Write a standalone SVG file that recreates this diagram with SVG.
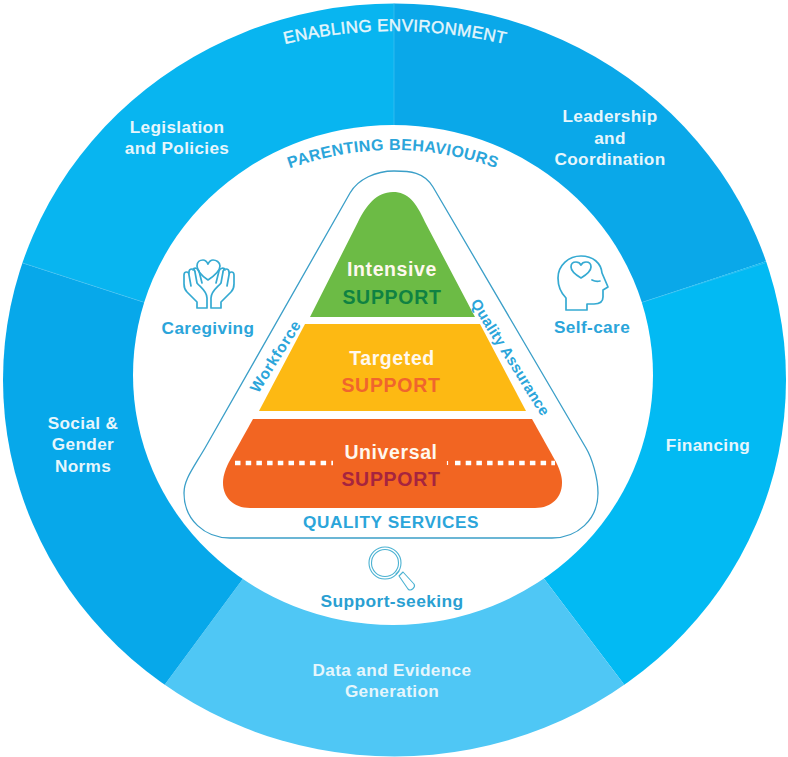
<svg xmlns="http://www.w3.org/2000/svg" width="788" height="757" viewBox="0 0 788 757">
<style>
text{font-family:"Liberation Sans",Arial,sans-serif;font-weight:700;text-anchor:middle}
.o{fill:#e6f6fc;font-size:17.2px;letter-spacing:.35px}
.b{fill:#2ba5da;font-size:17.2px;letter-spacing:.4px}
.r{fill:#2ba5da;letter-spacing:.5px}
.t{fill:#fff8ee;font-size:19.5px;letter-spacing:.6px}
.s{font-size:19.5px;letter-spacing:.7px}
.i{fill:none;stroke:#35aad2;stroke-width:1.7;stroke-linejoin:round;stroke-linecap:round}
.m{fill:none;stroke:#4bb2d2;stroke-width:1.1;stroke-linejoin:round;stroke-linecap:round}
.h{fill:none;stroke:#4cc4f2;stroke-width:.6}
</style>
<defs>
<path id="arcE" d="M270 48Q393 14 520 48"/>
<path id="arcP" d="M270 176Q393 124 516 176"/>
<clipPath id="disc"><ellipse cx="394.5" cy="380" rx="391.5" ry="376.5"/></clipPath>
</defs>
<rect width="788" height="757" fill="#fff"/>
<g id="segments" clip-path="url(#disc)">
<path d="M394 380L143 302L-10 252.500V-10H394Z" fill="#08b5f0"/>
<path d="M394 380L643 302L800 250V-10H394Z" fill="#0aa8e9"/>
<path d="M394 380L643 302L800 250V757H660L623 683L545 580Z" fill="#02baf3"/>
<path d="M394 380L545 580L623 683L680 760H110L166 683L242 580Z" fill="#4fc7f5"/>
<path d="M394 380L242 580L166 683L110 760H-10V252.500L143 302Z" fill="#07a8ea"/>
<path class="h" d="M394 0V130M23 263L143 302M765 263L643 302"/>
</g>
<ellipse id="centre" cx="393" cy="375" rx="260" ry="250" fill="#fff"/>
<g id="enabling-environment"><text class="o" style="font-size:17px;font-weight:400;stroke:#e6f6fc;stroke-width:.4;letter-spacing:.3px"><textPath href="#arcE" startOffset="50%">ENABLING ENVIRONMENT</textPath></text></g>
<g id="parenting-behaviours"><text class="b" style="font-size:16px;letter-spacing:.4px"><textPath href="#arcP" startOffset="50%">PARENTING BEHAVIOURS</textPath></text></g>
<g id="connectors">
<path d="M350 193C358 179 376 171 394 171C410 171 424 172 433 187L586 448C592 458 598 478 598 493C598 520 577 538 552 538H230C205 538 184 520 184 493C184 480 192 470 205 448Z" fill="none" stroke="#3b9fc8" stroke-width="1.3"/>
</g>
<g id="intensive">
<path d="M310 317L358 222C366 206 376 192 393 192C408 192 416 202 425 222L475 317Z" fill="#6cbb45"/>
<text class="t" x="392" y="276">Intensive</text>
<text class="s" x="392" y="304" fill="#0f8242">SUPPORT</text>
</g>
<g id="targeted">
<path d="M305 324H480L526 411H259Z" fill="#fdb913"/>
<text class="t" x="392" y="365">Targeted</text>
<text class="s" x="391" y="392" fill="#f0652d">SUPPORT</text>
</g>
<g id="universal">
<path d="M253 419H532L556 462C561 472 562 478 562 483C562 497 552 508 535 508H250C233 508 223 497 223 483C223 478 224 472 229 462Z" fill="#f26522"/>
<path d="M235 463H333M455 463H555" stroke="#fff" stroke-width="4.500" stroke-dasharray="5.500 5.200" fill="none"/>
<path d="M447.500 461V465" stroke="#fff" stroke-width="1.200" fill="none"/>
<text class="t" x="391" y="459">Universal</text>
<text class="s" x="391" y="486" fill="#a6243f">SUPPORT</text>
</g>
<g id="quality-services"><text class="b" x="391" y="528" style="letter-spacing:.6px">QUALITY SERVICES</text></g>
<g id="workforce"><text class="r" style="font-size:15.5px;letter-spacing:.6px" transform="translate(280 359) rotate(-58)">Workforce</text></g>
<g id="quality-assurance"><text class="r" style="font-size:15px;letter-spacing:.2px" transform="translate(506 360) rotate(58)">Quality Assurance</text></g>
<g id="caregiving">
<path class="i" d="M208 280C202 276 197 271 197 266C197 262 200 260 203 260C205 260 207 262 208 264C209 262 211 260 213 260C216 260 220 262 220 266C220 271 214 276 208 280Z"/>
<path class="i" d="M207 308H197V302L187 292C185 290 184 287 184 284V275C184 271 189 271 189 275V272C189 268 195 268 195 272L197 283M189 275L191 286M193 270C194 267 198 268 199 271L202 283M197 283C200 287 207 291 207 298V308"/>
<path class="i" d="M211 308H221V302L231 292C233 290 234 287 234 284V275C234 271 229 271 229 275V272C229 268 223 268 223 272L221 283M229 275L227 286M225 270C224 267 220 268 219 271L216 283M221 283C218 287 211 291 211 298V308"/>
<text class="b" x="208" y="334">Caregiving</text>
</g>
<g id="self-care">
<path class="i" d="M566 310V298C560 292 558 285 558 278C558 265 569 256 581 256C593 256 601 263 602 273L608 287L603 290V297C603 302 599 304 594 304H587V310Z"/>
<path class="i" d="M581 278C576 275 571 271 571 267C571 264 573 262 576 262C578 262 580 263 581 265C582 263 584 262 586 262C589 262 591 264 591 267C591 271 586 275 581 278Z"/>
<path class="i" d="M592 280Q596 282 600 281"/>
<text class="b" x="592" y="333">Self-care</text>
</g>
<g id="support-seeking">
<circle class="m" cx="385" cy="563" r="16"/>
<circle class="m" cx="385" cy="563" r="13.500"/>
<path class="m" d="M396 574L399 571M399 576L403 572L414 584C416 587 411 592 408 589Z"/>
<text class="b" x="392" y="607" style="font-size:17.4px;fill:#2a9fd2">Support-seeking</text>
</g>
<g id="legislation"><text class="o" x="177" y="133">Legislation</text><text class="o" x="177" y="154">and Policies</text></g>
<g id="leadership"><text class="o" x="610" y="122">Leadership</text><text class="o" x="610" y="144">and</text><text class="o" x="610" y="165">Coordination</text></g>
<g id="financing"><text class="o" x="708" y="451">Financing</text></g>
<g id="data"><text class="o" x="392" y="676">Data and Evidence</text><text class="o" x="392" y="697">Generation</text></g>
<g id="social"><text class="o" x="83" y="429">Social &amp;</text><text class="o" x="83" y="450">Gender</text><text class="o" x="83" y="472">Norms</text></g>
</svg>
